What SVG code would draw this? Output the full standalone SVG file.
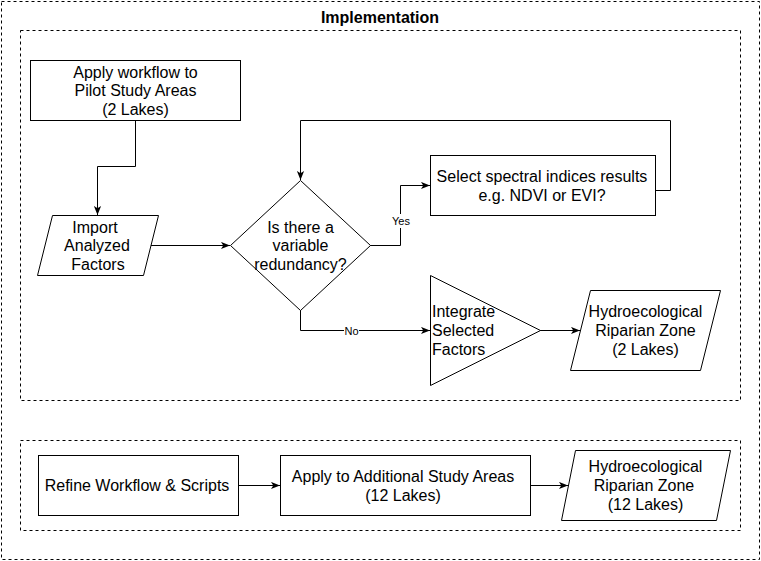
<svg xmlns="http://www.w3.org/2000/svg" width="761" height="561" viewBox="0 0 761 561">
<style>
.sh{fill:#fff;stroke:#000;stroke-width:1}
.dash{fill:none;stroke:#000;stroke-width:1;stroke-dasharray:3 3}
.t{font-family:"Liberation Sans",Arial,sans-serif;font-size:16px;fill:#000;text-anchor:middle;dominant-baseline:central}
.tl{text-anchor:start}
.lbl{font-family:"Liberation Sans",Arial,sans-serif;font-size:11px;fill:#000;text-anchor:middle;dominant-baseline:central}
.c{fill:none;stroke:#000;stroke-width:1}
</style>
<defs>
<marker id="arr" viewBox="0 0 10 8" refX="10" refY="4" markerWidth="9" markerHeight="8" markerUnits="userSpaceOnUse" orient="auto">
<path d="M0,0 L10,4 L0,8 L2.5,4 Z" fill="#000"/>
</marker>
</defs>
<rect width="761" height="561" fill="#fff"/>
<g id="outer">
<rect class="dash" x="1.5" y="1.5" width="758" height="558"/>
<text class="t" x="380" y="17" font-weight="bold">Implementation</text>
</g>
<g id="group-pilot"><rect class="dash" x="20.5" y="30.5" width="720" height="370"/></g>
<g id="group-additional"><rect class="dash" x="20.5" y="440.5" width="720" height="90"/></g>
<g id="connectors">
<path class="c" d="M135.5,120 V166.5 H97.5 V215" marker-end="url(#arr)"/>
<path class="c" d="M150.5,245.5 H230" marker-end="url(#arr)"/>
<path class="c" d="M370,245.5 H400.5 V185.5 H430" marker-end="url(#arr)"/>
<path class="c" d="M655.5,190.5 H670.5 V120.5 H300.5 V180" marker-end="url(#arr)"/>
<path class="c" d="M300.5,310 V330.5 H430" marker-end="url(#arr)"/>
<path class="c" d="M540,330.5 H580" marker-end="url(#arr)"/>
<path class="c" d="M238,485.5 H280" marker-end="url(#arr)"/>
<path class="c" d="M530,485.5 H568" marker-end="url(#arr)"/>
<rect x="391" y="214" width="20" height="14" fill="#fff"/>
<text class="lbl" x="401" y="221">Yes</text>
<rect x="344" y="324" width="15" height="13" fill="#fff"/>
<text class="lbl" x="351.5" y="330.5">No</text>
</g>
<g id="apply-pilot">
<rect class="sh" x="30.5" y="60.5" width="210" height="60"/>
<text class="t" x="135.5" y="72">Apply workflow to</text>
<text class="t" x="135.5" y="90.5">Pilot Study Areas</text>
<text class="t" x="135.5" y="109">(2 Lakes)</text>
</g>
<g id="import">
<polygon class="sh" points="52.5,215.5 158.5,215.5 143.5,275.5 37.5,275.5"/>
<text class="t" x="95" y="227">Import</text>
<text class="t" x="97" y="245.5">Analyzed</text>
<text class="t" x="98" y="264">Factors</text>
</g>
<g id="decision">
<polygon class="sh" points="300.5,180.5 370.5,245.5 300.5,310.5 230.5,245.5"/>
<text class="t" x="300.5" y="227">Is there a</text>
<text class="t" x="300.5" y="245.5">variable</text>
<text class="t" x="300.5" y="264">redundancy?</text>
</g>
<g id="select">
<rect class="sh" x="430.5" y="155.5" width="225" height="60"/>
<text class="t" x="542" y="176">Select spectral indices results</text>
<text class="t" x="542" y="195">e.g. NDVI or EVI?</text>
</g>
<g id="integrate">
<polygon class="sh" points="430.5,275.5 540.5,330.5 430.5,385.5"/>
<text class="t tl" x="432" y="311.5">Integrate</text>
<text class="t tl" x="432" y="330.5">Selected</text>
<text class="t tl" x="432" y="349">Factors</text>
</g>
<g id="riparian-2">
<polygon class="sh" points="590.5,290.5 720.5,290.5 700.5,370.5 570.5,370.5"/>
<text class="t" x="645.5" y="311.5">Hydroecological</text>
<text class="t" x="645.5" y="330.5">Riparian Zone</text>
<text class="t" x="645.5" y="349">(2 Lakes)</text>
</g>
<g id="refine">
<rect class="sh" x="38.5" y="455.5" width="200" height="60"/>
<text class="t" x="137" y="485.5">Refine Workflow &amp; Scripts</text>
</g>
<g id="apply-additional">
<rect class="sh" x="280.5" y="455.5" width="250" height="60"/>
<text class="t" x="403" y="476">Apply to Additional Study Areas</text>
<text class="t" x="403" y="495">(12 Lakes)</text>
</g>
<g id="riparian-12">
<polygon class="sh" points="575.5,450.5 730.5,450.5 716.5,520.5 561.5,520.5"/>
<text class="t" x="645.5" y="466.5">Hydroecological</text>
<text class="t" x="644" y="485.5">Riparian Zone</text>
<text class="t" x="645.5" y="504.5">(12 Lakes)</text>
</g>
</svg>
